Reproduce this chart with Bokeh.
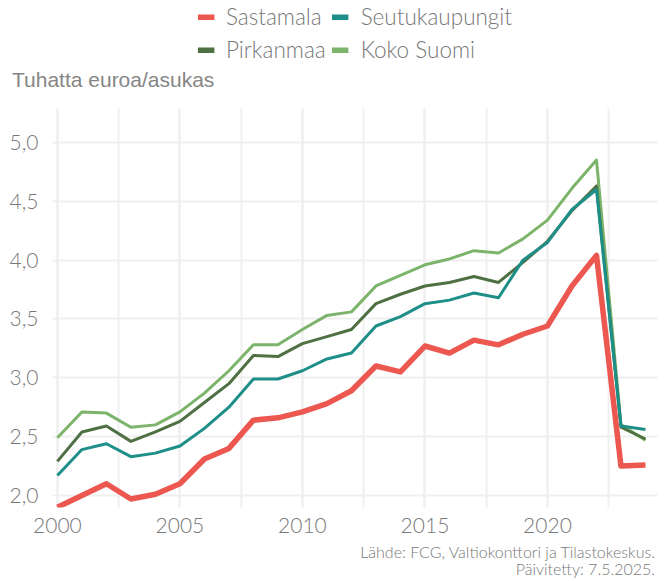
from bokeh.plotting import figure
from bokeh.layouts import column
from bokeh.models import (Legend, LegendItem, Div, FixedTicker, SingleIntervalTicker,
                          Range1d, ColumnDataSource)
from bokeh.embed import file_html
from bokeh.resources import INLINE

years = list(range(2000, 2025))
sastamala = [1.90, 2.00, 2.10, 1.97, 2.01, 2.10, 2.31, 2.40, 2.64, 2.66, 2.71, 2.78, 2.89,
             3.10, 3.05, 3.27, 3.21, 3.32, 3.28, 3.37, 3.44, 3.78, 4.04, 2.25, 2.26]
seutukaupungit = [2.17, 2.39, 2.44, 2.33, 2.36, 2.42, 2.57, 2.75, 2.99, 2.99, 3.06, 3.16, 3.21,
                  3.44, 3.52, 3.63, 3.66, 3.72, 3.68, 4.00, 4.15, 4.43, 4.60, 2.59, 2.56]
pirkanmaa = [2.29, 2.54, 2.59, 2.46, 2.54, 2.63, 2.79, 2.95, 3.19, 3.18, 3.29, 3.35, 3.41,
             3.63, 3.71, 3.78, 3.81, 3.86, 3.81, 3.98, 4.16, 4.42, 4.63, 2.58, 2.48]
koko_suomi = [2.49, 2.71, 2.70, 2.58, 2.60, 2.71, 2.87, 3.06, 3.28, 3.28, 3.41, 3.53, 3.56,
              3.78, 3.87, 3.96, 4.01, 4.08, 4.06, 4.18, 4.34, 4.61, 4.85, 2.60, 2.47]

series_names = ["Sastamala", "Seutukaupungit", "Pirkanmaa", "Koko Suomi"]
series_colors = ["#EC5750", "#1E8F88", "#4E7043", "#7DB46B"]
series_widths = [5.5, 3, 3, 3]

y_ticks = [2.0, 2.5, 3.0, 3.5, 4.0, 4.5, 5.0]
y_tick_labels = ["2,0", "2,5", "3,0", "3,5", "4,0", "4,5", "5,0"]
y_title = "Tuhatta euroa/asukas"
source_note = "Lähde: FCG, Valtiokonttori ja Tilastokeskus."
updated_note = "Päivitetty: 7.5.2025."

FONT = "Lato Light"
GRAY = "#787878"
GRID = "#EFEFEF"
W = 661

# ---- legend strip ----
lg = figure(width=W, height=62, output_backend="svg", toolbar_location=None,
            x_axis_type=None, y_axis_type=None, x_range=Range1d(0, 1), y_range=Range1d(0, 1),
            min_border_left=52, min_border_right=4, min_border_top=0, min_border_bottom=0)
lg.outline_line_color = None
lg.grid.visible = False
items = []
for name, col in zip(series_names, series_colors):
    r = lg.line(x=[float("nan")], y=[float("nan")], line_color=col, line_width=6,
                line_cap="butt")
    items.append(LegendItem(label=name, renderers=[r]))
legend = Legend(items=items, orientation="horizontal", ncols=2, location="top_center",
                label_text_font=FONT, label_text_font_size="22.5px", label_text_color=GRAY,
                glyph_width=17, glyph_height=6, label_standoff=12, spacing=6,
                border_line_color=None, background_fill_alpha=0, padding=0, margin=3)
lg.add_layout(legend, "center")

# ---- y title ----
yt = Div(text=y_title, width=W, height=36, margin=(0, 0, 0, 0),
         styles={"font-family": "Liberation Sans", "font-size": "21px",
                 "font-weight": "normal", "line-height": "36px", "color": "#868686",
                 "padding-left": "12px", "white-space": "nowrap"})

# ---- main chart ----
p = figure(width=W, height=439, output_backend="svg", toolbar_location=None,
           x_range=Range1d(1999.80, 2024.49), y_range=Range1d(1.898, 5.288),
           min_border_left=52, min_border_right=4, min_border_top=10, min_border_bottom=30)
p.outline_line_color = None

source = ColumnDataSource(dict(year=years, s0=sastamala, s1=seutukaupungit,
                               s2=pirkanmaa, s3=koko_suomi))
for idx in [3, 2, 1, 0]:
    p.line("year", "s%d" % idx, source=source, line_color=series_colors[idx],
           line_width=series_widths[idx], line_join="round")

p.xaxis.ticker = SingleIntervalTicker(interval=5, num_minor_ticks=2)
p.yaxis.ticker = FixedTicker(ticks=y_ticks)
p.yaxis.major_label_overrides = {t: l for t, l in zip(y_ticks, y_tick_labels)}
for ax in [p.xaxis[0], p.yaxis[0]]:
    ax.axis_line_color = None
    ax.major_tick_line_color = None
    ax.minor_tick_line_color = None
    ax.major_label_text_font = FONT
    ax.major_label_text_font_size = "21px"
    ax.major_label_text_color = GRAY
p.xaxis.major_label_standoff = 4
p.yaxis.major_label_standoff = 8

p.xgrid.grid_line_color = GRID
p.xgrid.grid_line_width = 2
p.xgrid.minor_grid_line_color = GRID
p.xgrid.minor_grid_line_width = 2
p.ygrid.grid_line_color = GRID
p.ygrid.grid_line_width = 2

# ---- footnotes ----
fn = Div(text=source_note + "<br>" + updated_note, width=W, height=42, margin=(0, 0, 0, 0),
         styles={"font-family": FONT, "font-size": "16px", "line-height": "17px",
                 "color": GRAY, "text-align": "right", "padding-right": "6px",
                 "padding-top": "6px", "box-sizing": "border-box", "width": "%dpx" % W,
                 "white-space": "nowrap"})

layout = column(lg, yt, p, fn, spacing=0)
open("out.html", "w").write(file_html(layout, INLINE))
